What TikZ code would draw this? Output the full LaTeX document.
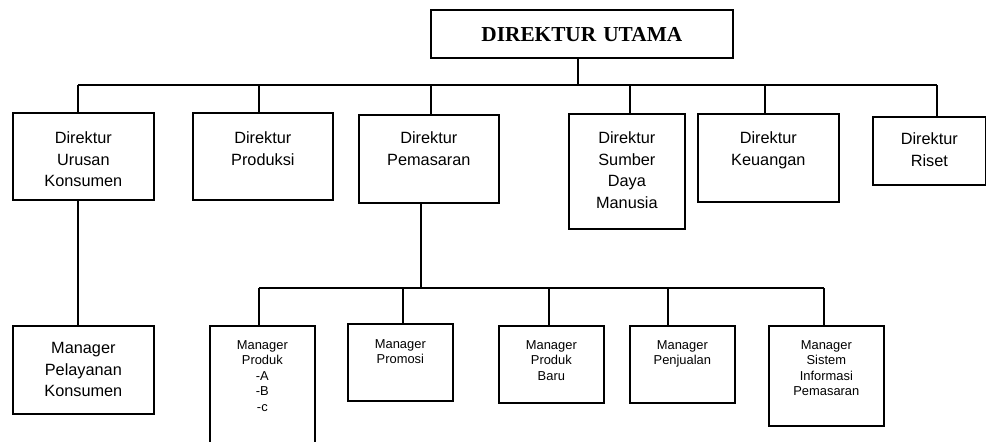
\documentclass[tikz,border=0pt]{standalone}
\usepackage{fontspec}
\setmainfont{Liberation Sans}
\newfontfamily\hurufjudul{Liberation Serif}
\usetikzlibrary{positioning}

\tikzset{
	kotak/.style = {draw, black, line width = 1.7pt, inner sep = 0pt, anchor = north west, align = center},
	besar/.style = {font = \fontsize{16.3}{21.5}\selectfont},
	kecil/.style = {font = \fontsize{12.9}{15.5}\selectfont},
	garis/.style = {black, line width = 1.7pt}
}

\begin{document}
\begin{tikzpicture}[x = 1pt, y = -1pt]
	\useasboundingbox (0, 0) rectangle (986, 442);
	% direktur
	\node[kotak, text width = 302pt, text height = 32pt, text depth = 16pt, font = \hurufjudul\bfseries\fontsize{21.3}{24}\selectfont] (utama) at (430, 9) {DIREKTUR UTAMA};
	\node[kotak, besar, text width = 141pt, text height = 31pt, text depth = 56pt] (urusan) at (12, 112) {Direktur\\Urusan\\Konsumen};
	\node[kotak, besar, text width = 140pt, text height = 31pt, text depth = 56pt] (produksi) at (192, 112) {Direktur\\Produksi};
	\node[kotak, besar, text width = 140pt, text height = 29pt, text depth = 59pt] (pemasaran) at (358, 114) {Direktur\\Pemasaran};
	\node[kotak, besar, text width = 116pt, text height = 30pt, text depth = 85pt] (sdm) at (568, 113) {Direktur\\Sumber\\Daya\\Manusia};
	\node[kotak, besar, text width = 141pt, text height = 30pt, text depth = 58pt] (keuangan) at (697, 113) {Direktur\\Keuangan};
	\node[kotak, besar, text width = 113pt, text height = 28pt, text depth = 40pt] (riset) at (872, 116) {Direktur\\Riset};
	% manager
	\node[kotak, besar, text width = 141pt, text height = 28pt, text depth = 60pt] (pelayanan) at (12, 325) {Manager\\Pelayanan\\Konsumen};
	\node[kotak, kecil, text width = 105pt, text height = 23.5pt, text depth = 102pt] (produk) at (209, 325) {Manager\\Produk\\-A\\-B\\-c};
	\node[kotak, kecil, text width = 105pt, text height = 24.5pt, text depth = 52.5pt] (promosi) at (347, 323) {Manager\\Promosi};
	\node[kotak, kecil, text width = 105pt, text height = 23.5pt, text depth = 53.5pt] (baru) at (498, 325) {Manager\\Produk\\Baru};
	\node[kotak, kecil, text width = 105pt, text height = 23.5pt, text depth = 53.5pt] (penjualan) at (629, 325) {Manager\\Penjualan};
	\node[kotak, kecil, text width = 115pt, text height = 23.5pt, text depth = 76.5pt] (sistem) at (768, 325) {Manager\\Sistem\\Informasi\\Pemasaran};
	\coordinate (busatas) at (0, 85);
	\coordinate (busbawah) at (0, 288);
	% garis atas
	\draw[garis] ([xshift = -4pt]utama.south) -- ([xshift = -4pt]utama.south |- busatas);
	\draw[garis] ([xshift = -5.5pt]urusan.north |- busatas) -- ([xshift = 7.5pt]riset.north |- busatas);
	\draw[garis] ([xshift = -5.5pt]urusan.north) -- ([xshift = -5.5pt]urusan.north |- busatas);
	\draw[garis] ([xshift = -4pt]produksi.north) -- ([xshift = -4pt]produksi.north |- busatas);
	\draw[garis] ([xshift = 2pt]pemasaran.north) -- ([xshift = 2pt]pemasaran.north |- busatas);
	\draw[garis] ([xshift = 3pt]sdm.north) -- ([xshift = 3pt]sdm.north |- busatas);
	\draw[garis] ([xshift = -3.5pt]keuangan.north) -- ([xshift = -3.5pt]keuangan.north |- busatas);
	\draw[garis] ([xshift = 7.5pt]riset.north) -- ([xshift = 7.5pt]riset.north |- busatas);
	% garis bawah
	\draw[garis] ([xshift = -5.5pt]urusan.south) -- ([xshift = -5.5pt]pelayanan.north);
	\draw[garis] ([xshift = -8pt]pemasaran.south) -- ([xshift = -8pt]pemasaran.south |- busbawah);
	\draw[garis] ([xshift = -3.5pt]produk.north |- busbawah) -- ([xshift = -2.5pt]sistem.north |- busbawah);
	\draw[garis] ([xshift = -3.5pt]produk.north) -- ([xshift = -3.5pt]produk.north |- busbawah);
	\draw[garis] ([xshift = 2.5pt]promosi.north) -- ([xshift = 2.5pt]promosi.north |- busbawah);
	\draw[garis] ([xshift = -2.5pt]baru.north) -- ([xshift = -2.5pt]baru.north |- busbawah);
	\draw[garis] ([xshift = -14.5pt]penjualan.north) -- ([xshift = -14.5pt]penjualan.north |- busbawah);
	\draw[garis] ([xshift = -2.5pt]sistem.north) -- ([xshift = -2.5pt]sistem.north |- busbawah);
\end{tikzpicture}
\end{document}
